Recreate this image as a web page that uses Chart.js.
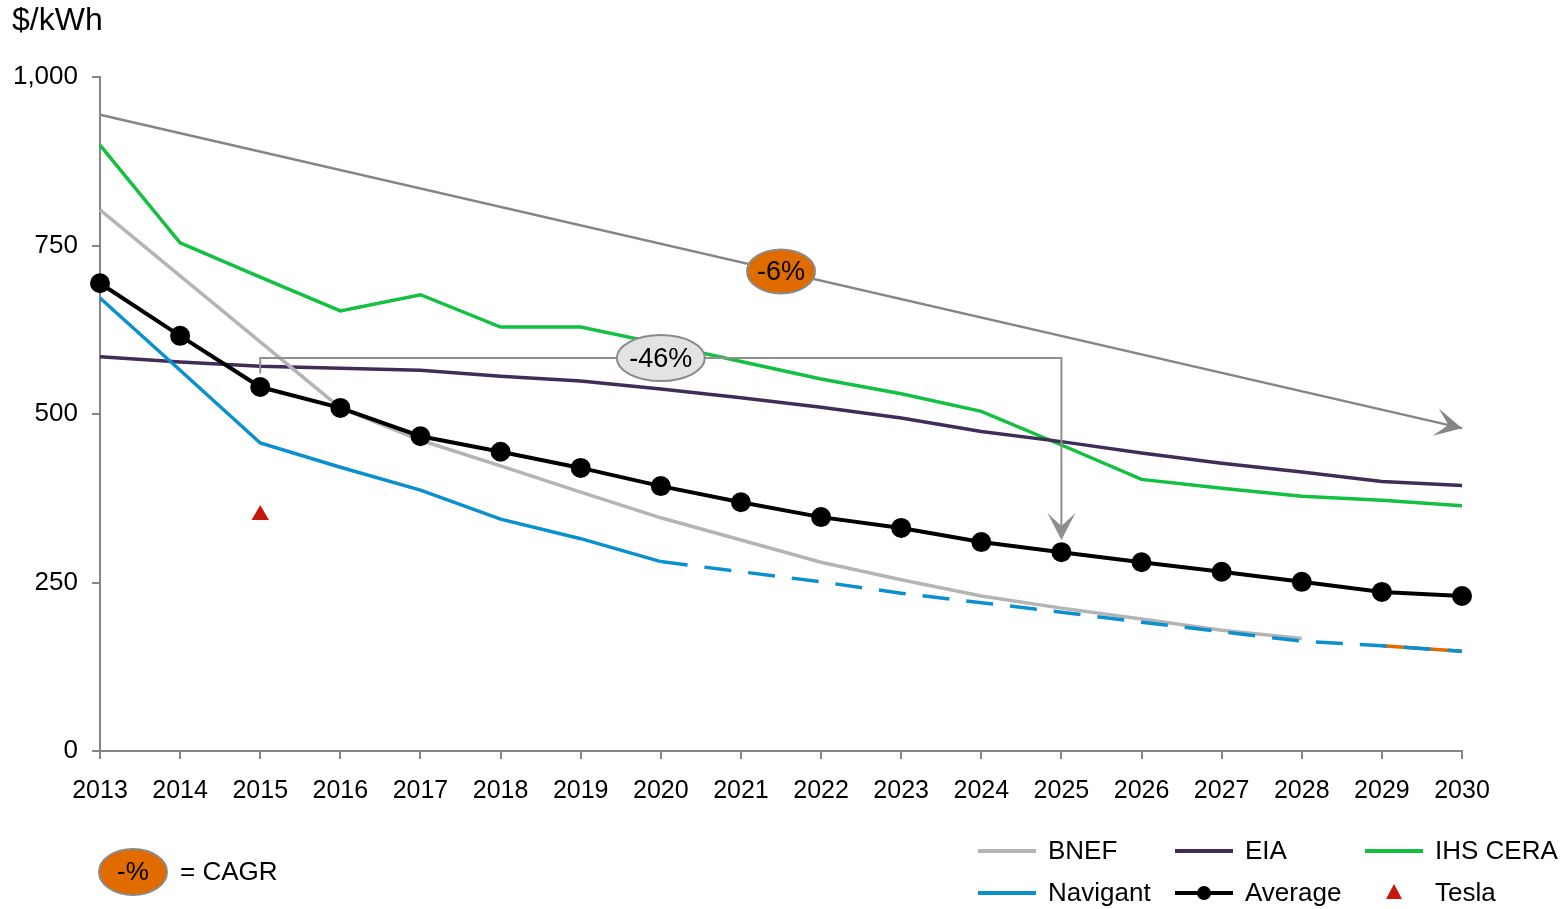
<!DOCTYPE html>
<html>
<head>
<meta charset="utf-8">
<script src="https://cdn.jsdelivr.net/npm/chart.js@4/dist/chart.umd.min.js"></script>
<style>
  body { margin: 0; background: #fff; }
  #wrap { width: 1568px; height: 909px; }
</style>
</head>
<body>
<div id="wrap"><canvas id="costChart" width="1568" height="909"></canvas></div>
<script>
'use strict';

const YEARS = ['2013', '2014', '2015', '2016', '2017', '2018', '2019', '2020', '2021',
    '2022', '2023', '2024', '2025', '2026', '2027', '2028', '2029', '2030'];
const Y_TICKS = [0, 250, 500, 750, 1000];

const BNEF = [803, 705, 607, 509, 461, 423, 384, 346, 313, 280, 254, 230, 212, 196, 179, 167, null, null];
const EIA = [585, 577, 571, 568, 565, 556, 549, 537, 524, 510, 494, 474, 459, 442, 427, 414, 400, 394];
const IHS_CERA = [899, 754, 703, 653, 677, 629, 629, 604, 578, 552, 530, 504, 454, 403, 390, 378, 372, 364];
const NAVIGANT = [672, 565, 457, 421, 387, 344, 315, 281, 266, 251, 234, 220, 206, 191, 177, 163, 156, 148];
const AVERAGE = [694, 616, 540, 509, 467, 444, 420, 393, 369, 347, 331, 310, 295, 280, 266, 251, 236, 230];
const TESLA = [null, null, 350, null, null, null, null, null, null, null, null, null, null, null, null, null, null, null];
const BNEF_TAIL = [null, null, null, null, null, null, null, null, null, null, null, null, null, null, null, null, 156, 148];

// long-run trend (first and last year) and the 2015 -> 2025 drop
const TREND = [944, null, null, null, null, null, null, null, null, null, null, null, null, null, null, null, null, 479];
const TREND_LABEL = '-6%';
const DROP_LABEL = '-46%';
const DROP_FROM = 2;      // index of 2015
const DROP_TO = 12;       // index of 2025
const DROP_LEVELS = [560, 583, 313];   // start, bracket top, arrow tip

const FONT = "'Liberation Sans', Arial, sans-serif";
const C = {
    bnef: '#b4b4b4',
    eia: '#3f2c57',
    ihs: '#12c042',
    navigant: '#0a8fcf',
    average: '#000000',
    tesla: '#c8170a',
    orange: '#e06c00',
    trend: '#858585',
    axis: '#868686'
};

const ellipse = (ctx, cx, cy, rx, ry, fill, text, size) => {
    ctx.save();
    ctx.beginPath();
    ctx.ellipse(cx, cy, rx, ry, 0, 0, Math.PI * 2);
    ctx.fillStyle = fill;
    ctx.fill();
    ctx.lineWidth = 2;
    ctx.strokeStyle = '#8a8a8a';
    ctx.stroke();
    ctx.fillStyle = '#000';
    ctx.font = `${size}px ${FONT}`;
    ctx.textAlign = 'center';
    ctx.textBaseline = 'middle';
    ctx.fillText(text, cx, cy + 1);
    ctx.restore();
};

// notched arrow head, tip at (x, y) pointing along angle
const arrowHead = (ctx, x, y, angle, color) => {
    const len = 27, half = 14, notch = 13;
    const cos = Math.cos(angle), sin = Math.sin(angle);
    const bx = x - cos * len, by = y - sin * len;
    ctx.save();
    ctx.fillStyle = color;
    ctx.beginPath();
    ctx.moveTo(x, y);
    ctx.lineTo(bx - sin * half, by + cos * half);
    ctx.lineTo(x - cos * (len - notch), y - sin * (len - notch));
    ctx.lineTo(bx + sin * half, by - cos * half);
    ctx.closePath();
    ctx.fill();
    ctx.restore();
};

const annotations = {
    id: 'annotations',
    afterDatasetsDraw(chart) {
        const ctx = chart.ctx;
        const x = chart.scales.x, y = chart.scales.y;

        // arrow on the trend line
        const x0 = x.getPixelForValue(0), y0 = y.getPixelForValue(TREND[0]);
        const x1 = x.getPixelForValue(YEARS.length - 1), y1 = y.getPixelForValue(TREND[TREND.length - 1]);
        arrowHead(ctx, x1, y1, Math.atan2(y1 - y0, x1 - x0), C.trend);

        // 2015 -> 2025 bracket
        const bx0 = x.getPixelForValue(DROP_FROM), bx1 = x.getPixelForValue(DROP_TO);
        const yStart = y.getPixelForValue(DROP_LEVELS[0]);
        const yTop = y.getPixelForValue(DROP_LEVELS[1]);
        const yTip = y.getPixelForValue(DROP_LEVELS[2]);
        ctx.save();
        ctx.strokeStyle = '#8f8f8f';
        ctx.lineWidth = 2;
        ctx.beginPath();
        ctx.moveTo(bx0, yStart);
        ctx.lineTo(bx0, yTop);
        ctx.lineTo(bx1, yTop);
        ctx.lineTo(bx1, yTip - 14);
        ctx.stroke();
        ctx.restore();
        arrowHead(ctx, bx1, yTip, Math.PI / 2, '#8f8f8f');

        const midIdx = (DROP_FROM + DROP_TO) / 2;
        ellipse(ctx, x.getPixelForValue(midIdx), yTop, 44, 23, '#e3e3e3', DROP_LABEL, 27);

        const tIdx = 8.5;
        const tx = x.getPixelForValue(tIdx);
        const ty = y0 + (y1 - y0) * (tx - x0) / (x1 - x0);
        ellipse(ctx, tx, ty, 34, 22, C.orange, TREND_LABEL, 27);
    },
    afterDraw(chart) {
        const ctx = chart.ctx;
        ctx.save();
        // unit label
        ctx.fillStyle = '#000';
        ctx.font = `32px ${FONT}`;
        ctx.textBaseline = 'middle';
        ctx.textAlign = 'left';
        ctx.fillText('$/kWh', 12, 21);

        // CAGR key
        ellipse(ctx, 133, 872, 34, 23, C.orange, '-%', 26);
        ctx.fillStyle = '#000';
        ctx.font = `26px ${FONT}`;
        ctx.textBaseline = 'middle';
        ctx.fillText('= CAGR', 180, 873);

        // legend
        const items = [
            { label: 'BNEF', color: C.bnef, x: 978, y: 851 },
            { label: 'EIA', color: C.eia, x: 1175, y: 851 },
            { label: 'IHS CERA', color: C.ihs, x: 1365, y: 851 },
            { label: 'Navigant', color: C.navigant, x: 978, y: 893 },
            { label: 'Average', color: C.average, x: 1175, y: 893, dot: true },
            { label: 'Tesla', color: C.tesla, x: 1365, y: 893, tri: true }
        ];
        ctx.font = `26px ${FONT}`;
        for (let it of items) {
            if (it.tri) {
                ctx.fillStyle = it.color;
                ctx.beginPath();
                ctx.moveTo(it.x + 29, it.y - 9);
                ctx.lineTo(it.x + 37, it.y + 6);
                ctx.lineTo(it.x + 21, it.y + 6);
                ctx.closePath();
                ctx.fill();
            } else {
                ctx.strokeStyle = it.color;
                ctx.lineWidth = 4;
                ctx.beginPath();
                ctx.moveTo(it.x, it.y);
                ctx.lineTo(it.x + 58, it.y);
                ctx.stroke();
                if (it.dot) {
                    ctx.fillStyle = it.color;
                    ctx.beginPath();
                    ctx.arc(it.x + 29, it.y, 7, 0, Math.PI * 2);
                    ctx.fill();
                }
            }
            ctx.fillStyle = '#000';
            ctx.fillText(it.label, it.x + 70, it.y + 1);
        }
        ctx.restore();
    }
};

const line = (label, data, color, extra) => Object.assign({
    label: label,
    data: data,
    borderColor: color,
    backgroundColor: color,
    borderWidth: 3.5,
    pointRadius: 0,
    fill: false,
    tension: 0
}, extra || {});

window.onload = () => {
    const chartDOM = document.getElementById('costChart');
    new Chart(chartDOM, {
        type: 'line',
        data: {
            labels: YEARS,
            // first dataset is drawn on top
            datasets: [
                line('Tesla', TESLA, C.tesla, {
                    showLine: false, pointStyle: 'triangle', pointRadius: 10, borderWidth: 0
                }),
                line('Average', AVERAGE, C.average, { borderWidth: 4, pointRadius: 8 }),
                line('Navigant', NAVIGANT, C.navigant, {
                    segment: { borderDash: ctx => ctx.p0DataIndex >= 7 ? [27, 17] : undefined }
                }),
                line('BNEF tail', BNEF_TAIL, C.orange),
                line('BNEF', BNEF, C.bnef),
                line('EIA', EIA, C.eia),
                line('IHS CERA', IHS_CERA, C.ihs),
                line('Trend', TREND, C.trend, { borderWidth: 2.5, spanGaps: true })
            ]
        },
        options: {
            responsive: false,
            animation: false,
            layout: { padding: { left: 0, top: 77, right: 106, bottom: 100 } },
            plugins: {
                legend: { display: false },
                tooltip: { enabled: false }
            },
            scales: {
                x: {
                    offset: false,
                    border: { color: C.axis, width: 2 },
                    grid: { drawOnChartArea: false, drawTicks: true, tickLength: 8, color: C.axis, lineWidth: 2 },
                    ticks: { color: '#000', font: { family: FONT, size: 25 }, padding: 17, maxRotation: 0, autoSkip: false },
                    afterFit: scale => { scale.height = 58; }
                },
                y: {
                    min: Y_TICKS[0],
                    max: Y_TICKS[Y_TICKS.length - 1],
                    border: { color: C.axis, width: 2 },
                    grid: { drawOnChartArea: false, drawTicks: true, tickLength: 8, color: C.axis, lineWidth: 2 },
                    ticks: {
                        stepSize: 250,
                        color: '#000',
                        padding: 14,
                        font: { family: FONT, size: 26 },
                        callback: v => v.toLocaleString('en-US')
                    },
                    afterFit: scale => { scale.width = 100; }
                }
            }
        },
        plugins: [annotations]
    });
};
</script>
</body>
</html>
